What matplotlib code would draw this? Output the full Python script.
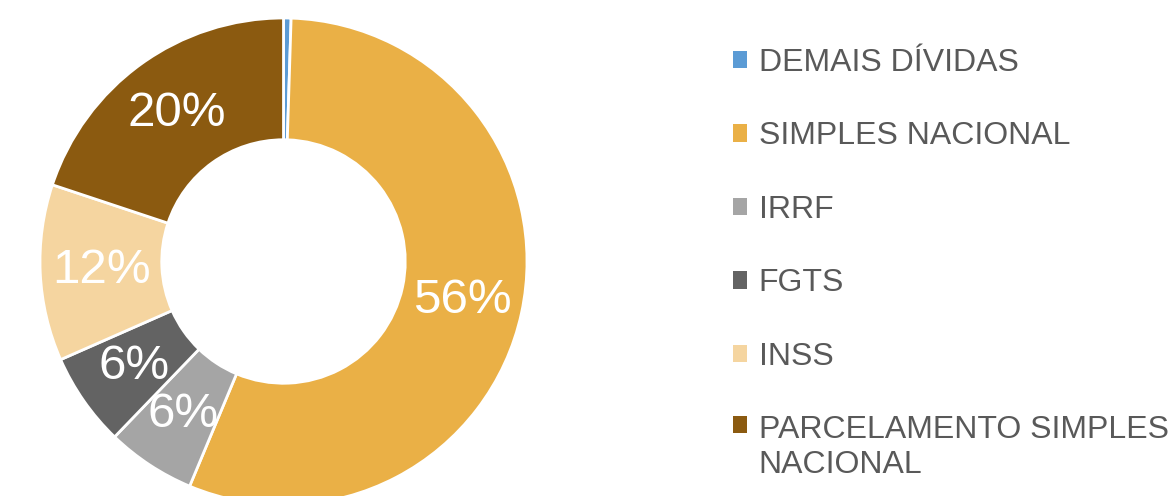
import matplotlib.pyplot as plt
from matplotlib.patches import Patch, Rectangle
from matplotlib.legend_handler import HandlerPatch

plt.rcParams["font.family"] = ["Liberation Sans", "DejaVu Sans"]

categorias = ["DEMAIS DÍVIDAS", "SIMPLES NACIONAL", "IRRF", "FGTS", "INSS",
              "PARCELAMENTO SIMPLES\nNACIONAL"]
valores = [0.5, 55.8, 5.9, 6.2, 11.7, 19.9]
cores = ["#5B9BD5", "#EAB046", "#A5A5A5", "#636363", "#F5D5A0", "#8B5A10"]

W, H = 1173, 496
cx, cy, r = 283.5, 261.5, 243.5  # centro e raio em pixels

fig = plt.figure(figsize=(W / 100, H / 100), dpi=100)
ax = fig.add_axes([0, 0, 1, 1])

wedges, _, autotexts = ax.pie(
    valores,
    colors=cores,
    startangle=90,
    counterclock=False,
    radius=1,
    autopct=lambda p: f"{p:.0f}%" if p >= 1 else "",
    pctdistance=0.75,
    wedgeprops=dict(width=0.5, edgecolor="white", linewidth=2),
    textprops=dict(color="white", fontsize=35.5),
)
# pie() mexe nos limites, entao define depois
ax.set_aspect("auto")
ax.set_xlim(-cx / r, (W - cx) / r)
ax.set_ylim(-(H - cy) / r, cy / r)
ax.axis("off")


# quadradinho na primeira linha do texto de duas linhas
def quadrado_topo(legend, orig_handle, xdescent, ydescent, width, height, fontsize):
    return Rectangle((-xdescent, -ydescent + 16.5), width, height)


handles = [Patch(facecolor=c, edgecolor="none") for c in cores]
leg = fig.legend(handles, categorias, loc="upper left",
                 bbox_to_anchor=(733 / W, 1 - 48 / H),
                 frameon=False, fontsize=23, labelcolor="#595959",
                 handlelength=0.45, handleheight=0.45, handletextpad=0.35,
                 labelspacing=1.36, borderaxespad=0, borderpad=0,
                 handler_map={handles[-1]: HandlerPatch(patch_func=quadrado_topo)})

fig.savefig("out.png", dpi=100)
